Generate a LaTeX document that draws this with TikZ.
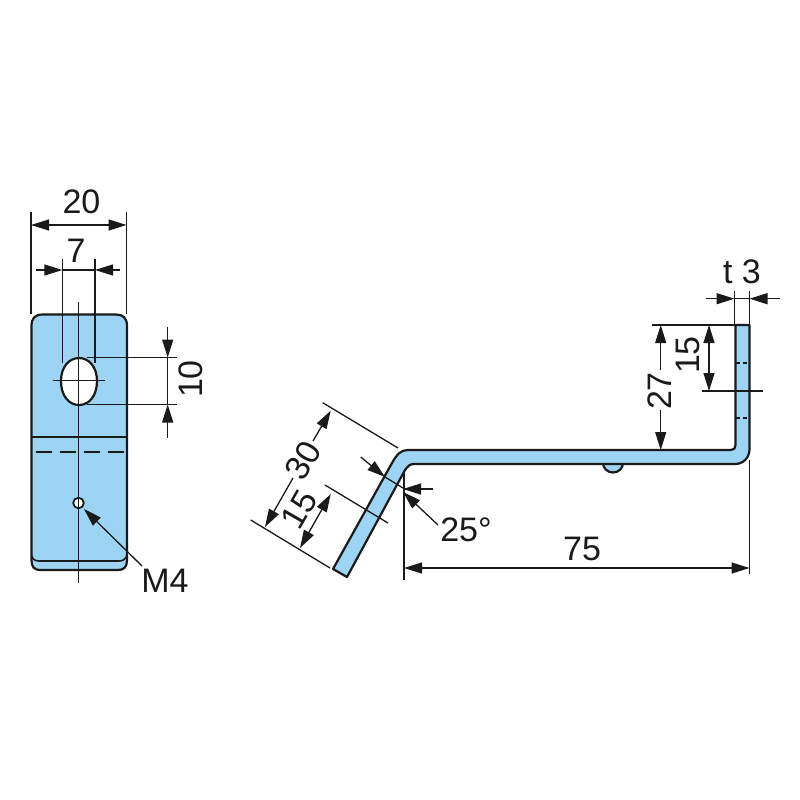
\documentclass[tikz,border=0pt]{standalone}
\usepackage{fontspec}
\setmainfont{Liberation Sans}
\usetikzlibrary{arrows.meta}
\definecolor{steel}{HTML}{9DD3F3}
\definecolor{ink}{HTML}{1A1A1A}
\tikzset{
  part/.style={draw=ink,line width=2.2pt,fill=steel,line join=round},
  thin line/.style={draw=ink,line width=1.3pt},
  dim/.style={thin line,-{Stealth[length=18pt,width=11pt,inset=0pt]}},
  dimtwo/.style={thin line,{Stealth[length=18pt,width=11pt,inset=0pt]}-{Stealth[length=18pt,width=11pt,inset=0pt]}},
  label/.style={text=ink,inner sep=0pt,font=\fontsize{34}{34}\selectfont}
}
\begin{document}
\begin{tikzpicture}[x=1pt,y=-1pt]
\useasboundingbox (0,0) rectangle (800,800);
\fill[white] (0,0) rectangle (800,800);
% ---- left view
\path[part] (31.5,326) .. controls (31.5,318) and (35,314.5) .. (43,314.5)
  -- (116,314.5) .. controls (123,314.5) and (127,318) .. (127,326)
  -- (127,560) .. controls (127,567) and (124,570) .. (118,570)
  -- (41,570) .. controls (34,570) and (31.5,567) .. (31.5,560) -- cycle;
\draw[thin line,line width=1.6pt] (31.5,437) -- (127,437);
\draw[thin line,line width=1.6pt] (31.5,555) .. controls (32,559) and (35,561) .. (39,561)
  -- (119,561) .. controls (123,561) and (126,559) .. (127,555);
\draw[thin line,line width=2pt,dash pattern=on 16pt off 8pt] (36,452) -- (124,452);
% slot
\path[part,fill=white] (61,381) .. controls (61,367) and (69,358) .. (79,358)
  .. controls (89,358) and (97,367) .. (97,381)
  .. controls (97,396) and (89,405) .. (79,405)
  .. controls (69,405) and (61,396) .. (61,381) -- cycle;
% small hole
\path[part,fill=white,line width=1.8pt] (78.5,503) circle (5.3);
% centre lines
\draw[thin line] (78.5,302) -- (78.5,583);
\draw[thin line] (52.5,380.5) -- (105,380.5);
% 20
\draw[thin line] (31,212) -- (31,314);
\draw[thin line] (126.5,212) -- (126.5,314);
\draw[dimtwo] (31,225) -- (126.5,225);
\node[label,anchor=base] (t20) at (81.5,213) {20};
% 7
\draw[thin line] (62.3,259) -- (62.3,363);
\draw[thin line] (95,259) -- (95,363);
\draw[dim] (36,270) -- (62.3,270);
\draw[thin line] (62.3,270) -- (95,270);
\draw[dim] (120,270) -- (95,270);
\node[label,anchor=base] (t7) at (76,262) {7};
% 10
\draw[thin line] (87,357.5) -- (177,357.5);
\draw[thin line] (87,404.5) -- (177,404.5);
\draw[dim] (167.7,327) -- (167.7,357.5);
\draw[thin line] (167.7,357.5) -- (167.7,404.5);
\draw[dim] (167.7,438) -- (167.7,404.5);
\node[label,anchor=base,rotate=90] (t10) at (202,379) {10};
% M4
\draw[dim] (142,566) -- (84,509);
\node[label,anchor=base] (tm4) at (165,592) {M4};
% ---- right view
\path[part,fill=steel] (603,463) arc[start angle=180,end angle=360,x radius=10,y radius=-9.5] -- cycle;
\path[part] (735.5,325) -- (749.5,325) -- (749.5,449)
  .. controls (749.5,458) and (743,464) .. (735,464)
  -- (414,464) .. controls (410,464) and (408,466) .. (405,470)
  -- (347,577) -- (333,569) -- (392,463)
  .. controls (397,454) and (401,450) .. (408,450)
  -- (731,450) .. controls (734,450) and (735.5,448) .. (735.5,445) -- cycle;
% tick dashes
\draw[thin line,dash pattern=on 4pt off 3pt] (736,363) -- (749,363);
\draw[thin line,dash pattern=on 4pt off 3pt] (736,418) -- (749,418);
% t 3
\draw[thin line] (734.5,291) -- (734.5,325);
\draw[thin line] (749.5,291) -- (749.5,325);
\draw[dim] (706,298.7) -- (734.5,298.7);
\draw[thin line] (734.5,298.7) -- (749.5,298.7);
\draw[dim] (780,298.7) -- (749.5,298.7);
\node[label,anchor=base] (tt3) at (742,283) {t 3};
% 27 and 15
\draw[thin line] (652,325) -- (735,325);
\draw[thin line] (702,391) -- (763,391);
\draw[dim] (660.7,370) -- (660.7,325);
\draw[dim] (660.7,410) -- (660.7,450);
\node[label,anchor=base,rotate=90] (t27) at (671,391) {27};
\draw[dimtwo] (709,325) -- (709,391);
\node[label,anchor=base,rotate=90] (t15a) at (699,355) {15};
% 75
\draw[thin line] (404,472) -- (404,580);
\draw[thin line] (749.5,460) -- (749.5,574);
\draw[dimtwo] (404,568) -- (749.5,568);
\node[label,anchor=base] (t75) at (582,560) {75};
% 30
\draw[thin line] (322.7,402.7) -- (398,448);
\draw[thin line] (250.7,520) -- (330,568);
\draw[dim] (313,441) -- (330.7,410.7);
\draw[dim] (293,478) -- (265,527);
\node[label,anchor=base,rotate=60] (t30) at (313,466) {30};
% 15 slanted
\draw[thin line] (325,485) -- (388,523);
\draw[dimtwo] (330.7,494) -- (300,548);
\node[label,anchor=base,rotate=60] (t15b) at (309,515) {15};
% 25
\draw[dim] (360.7,457) -- (385,477);
\draw[thin line] (385,477) -- (403,488);
\draw[dim] (433,489) -- (403,489);
\draw[dim] (438,525) -- (403,492);
\node[label,anchor=base] (t25) at (466,541) {25°};
\end{tikzpicture}
\end{document}
